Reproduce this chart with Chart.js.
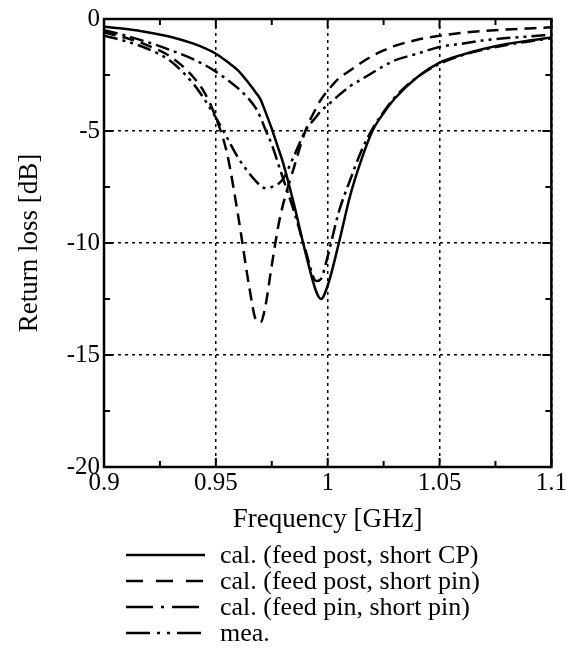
<!DOCTYPE html>
<html>
<head>
<meta charset="utf-8">
<script src="https://cdn.jsdelivr.net/npm/chart.js@4.4.1/dist/chart.umd.min.js"></script>
<style>
  html, body { margin: 0; padding: 0; background: #fff; }
</style>
</head>
<body>
<canvas id="rlChart" width="568" height="672"></canvas>
<script>
// frequency points (GHz), shared by all series
const freqGHz = [0.90, 0.91, 0.92, 0.93, 0.94, 0.945, 0.95, 0.955, 0.96, 0.965, 0.968, 0.97, 0.972, 0.975, 0.978,
    0.98, 0.985, 0.99, 0.995, 0.997, 1.0, 1.005, 1.01, 1.015, 1.02, 1.025, 1.03, 1.04, 1.05, 1.06, 1.07, 1.08, 1.09, 1.1];

// return loss [dB]
const calPostCP = [-0.35, -0.45, -0.6, -0.8, -1.1, -1.3, -1.55, -1.9, -2.3, -2.9, -3.3, -3.6, -4.1, -4.9, -5.8,
    -6.4, -8.3, -10.4, -12.2, -12.5, -11.9, -10.0, -7.9, -6.3, -5.0, -4.2, -3.55, -2.6, -1.95, -1.6, -1.33, -1.12, -0.96, -0.82];
const calPostPin = [-0.6, -0.85, -1.2, -1.7, -2.6, -3.3, -4.4, -6.0, -8.8, -12.0, -13.45, -13.55, -12.9, -11.0, -9.2,
    -8.3, -6.6, -5.0, -3.95, -3.6, -3.2, -2.65, -2.3, -1.95, -1.65, -1.4, -1.2, -0.93, -0.75, -0.62, -0.53, -0.47, -0.42, -0.37];
const calPinPin = [-0.5, -0.75, -1.05, -1.4, -1.8, -2.05, -2.35, -2.7, -3.1, -3.6, -4.0, -4.4, -4.9, -5.6, -6.5,
    -7.1, -8.6, -10.3, -11.7, -11.6, -10.6, -8.6, -7.2, -5.9, -4.9, -4.15, -3.5, -2.6, -2.0, -1.62, -1.36, -1.16, -1.0, -0.86];
const measured = [-0.75, -1.0, -1.35, -1.9, -2.9, -3.6, -4.4, -5.3, -6.2, -6.9, -7.25, -7.45, -7.55, -7.5, -7.35,
    -7.15, -6.1, -5.0, -4.35, -4.1, -3.85, -3.4, -3.0, -2.7, -2.4, -2.1, -1.85, -1.55, -1.25, -1.1, -0.95, -0.85, -0.78, -0.7];

const seriesLabels = ['cal. (feed post, short CP)', 'cal. (feed post, short pin)', 'cal. (feed pin, short pin)', 'mea.'];
const xTicks = [0.9, 0.95, 1, 1.05, 1.1];
const yTicks = [0, -5, -10, -15, -20];

const FONT = 'Liberation Serif';
const plotDash = [[], [12, 7], [14, 5, 3, 5], [14, 5, 3, 5, 3, 5]];
const legendDash = [[], [17, 13], [27, 8, 3, 8], [24, 7, 3, 7, 3, 7]];

function toPoints(values) {
    return freqGHz.map((f, i) => ({ x: f, y: values[i] }));
}

const datasets = [calPostCP, calPostPin, calPinPin, measured].map((vals, i) => ({
    label: seriesLabels[i],
    data: toPoints(vals),
    borderColor: '#000',
    borderWidth: 2.5,
    borderDash: plotDash[i],
    pointRadius: 0,
    fill: false,
    cubicInterpolationMode: 'monotone'
}));

// frame + inside ticks on all four sides
const frameTicks = {
    id: 'frameTicks',
    afterDatasetsDraw(chart) {
        const { ctx, chartArea: a, scales: { x, y } } = chart;
        ctx.save();
        ctx.strokeStyle = '#000';
        ctx.lineWidth = 2;
        ctx.setLineDash([]);
        ctx.beginPath();
        for (let i = 0; i <= 8; i++) {
            const px = x.getPixelForValue(0.9 + i * 0.025);
            const len = i % 2 === 0 ? 9 : 6;
            ctx.moveTo(px, a.top); ctx.lineTo(px, a.top + len);
            ctx.moveTo(px, a.bottom); ctx.lineTo(px, a.bottom - len);
        }
        for (let i = 0; i <= 8; i++) {
            const py = y.getPixelForValue(-i * 2.5);
            const len = i % 2 === 0 ? 9 : 6;
            ctx.moveTo(a.left, py); ctx.lineTo(a.left + len, py);
            ctx.moveTo(a.right, py); ctx.lineTo(a.right - len, py);
        }
        ctx.stroke();
        ctx.lineWidth = 2.5;
        ctx.strokeRect(a.left, a.top, a.right - a.left, a.bottom - a.top);
        ctx.restore();
    }
};

// legend under the x axis title, one entry per row
const rowLegend = {
    id: 'rowLegend',
    afterDraw(chart) {
        const ctx = chart.ctx;
        const x0 = 126, x1 = 205, textX = 220, rowY = 555, rowGap = 26;
        ctx.save();
        ctx.font = `26px "${FONT}"`;
        ctx.fillStyle = '#000';
        ctx.strokeStyle = '#000';
        ctx.textBaseline = 'middle';
        chart.data.datasets.forEach((ds, i) => {
            const yy = rowY + i * rowGap;
            ctx.lineWidth = 2.5;
            ctx.setLineDash(legendDash[i]);
            ctx.beginPath();
            ctx.moveTo(x0, yy);
            ctx.lineTo(x1, yy);
            ctx.stroke();
            ctx.setLineDash([]);
            ctx.fillText(ds.label, textX, yy + 1);
        });
        ctx.restore();
    }
};

new Chart(document.getElementById('rlChart'), {
    type: 'line',
    data: { datasets },
    options: {
        responsive: false,
        animation: false,
        layout: { padding: { top: 15, right: 16, left: 0, bottom: 136 } },
        plugins: { legend: { display: false }, tooltip: { enabled: false } },
        scales: {
            x: {
                type: 'linear',
                min: 0.9,
                max: 1.1,
                afterBuildTicks: s => { s.ticks = xTicks.map(v => ({ value: v })); },
                afterFit: s => { s.height = 69; },
                ticks: {
                    color: '#000',
                    font: { family: FONT, size: 25 },
                    padding: 1,
                    maxRotation: 0,
                    callback: v => String(Number(v.toFixed(2)))
                },
                grid: { color: '#000', lineWidth: 1.5, drawTicks: false },
                border: { display: false, dash: [3, 4] },
                title: { display: true, text: 'Frequency [GHz]', color: '#000', font: { family: FONT, size: 27 }, padding: { top: 0, bottom: 0 } }
            },
            y: {
                min: -20,
                max: 0,
                afterBuildTicks: s => { s.ticks = yTicks.map(v => ({ value: v })); },
                afterFit: s => { s.width = 104; },
                ticks: {
                    color: '#000',
                    font: { family: FONT, size: 25 },
                    padding: 4,
                    callback: v => String(v)
                },
                grid: { color: '#000', lineWidth: 1.5, drawTicks: false },
                border: { display: false, dash: [3, 4] },
                title: { display: true, text: 'Return loss [dB]', color: '#000', font: { family: FONT, size: 27 }, padding: { top: 14, bottom: 4 } }
            }
        }
    },
    plugins: [frameTicks, rowLegend]
});
</script>
</body>
</html>
